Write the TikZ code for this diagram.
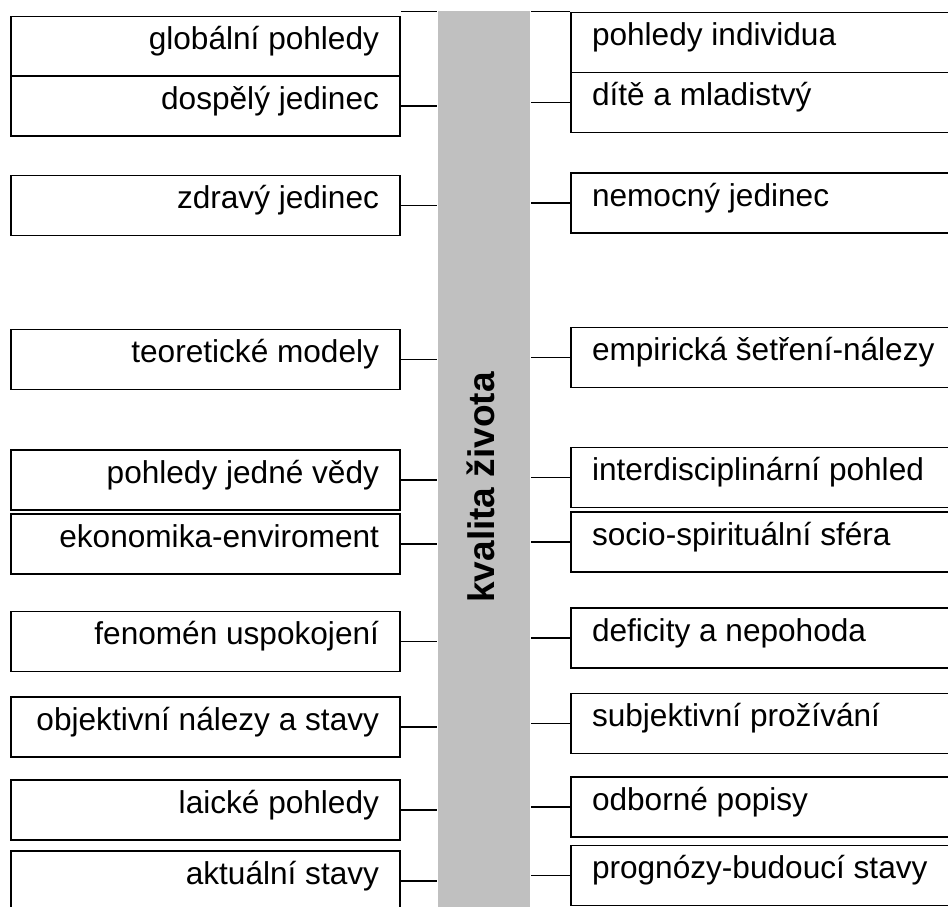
\documentclass[tikz,border=0pt]{standalone}
\usepackage{fontspec}
\setmainfont{Liberation Sans}
\usepackage{xcolor}
\usepackage{tikz}
\usetikzlibrary{positioning}
\definecolor{barfill}{HTML}{C0C0C0}

\begin{document}
\begin{tikzpicture}[x=1pt,y=-1pt,line width=1.5pt,
  box/.style={draw,line width=1.8pt,minimum height=60pt,inner xsep=21pt,inner ysep=0pt,
              text height=20pt,text depth=14pt,font=\fontsize{31.6}{36}\selectfont},
  lbox/.style={box,execute at begin node={\hbox to 347pt\bgroup\hss},execute at end node={\egroup}},
  rbox/.style={box,execute at begin node={\hbox to 358pt\bgroup},execute at end node={\hss\egroup}},
  bar/.style={fill=barfill,minimum width=92pt,minimum height=953pt,inner sep=0pt}]
\useasboundingbox (0,0) rectangle (948,906);
\clip (0,0) rectangle (948,906);
% middle bar
\node[bar] (kz) at (484,487.5) {};
\node[rotate=90,anchor=base,font=\bfseries\fontsize{37}{40}\selectfont] (kzt) at (494,487.5) {kvalita života};
% left side
\node[lbox] (l1)  at (205.5,46.5)  {globální pohledy};
\node[lbox] (l2)  at (205.5,106)   {dospělý jedinec};
\node[lbox] (l3)  at (205.5,205.5) {zdravý jedinec};
\node[lbox] (l4)  at (205.5,359.5) {teoretické modely};
\node[lbox] (l5)  at (205.5,480)   {pohledy jedné vědy};
\node[lbox] (l6)  at (205.5,544)   {ekonomika-enviroment};
\node[lbox] (l7)  at (205.5,641.5) {fenomén uspokojení};
\node[lbox] (l8)  at (205.5,727)   {objektivní nálezy a stavy};
\node[lbox] (l9)  at (205.5,810)   {laické pohledy};
\node[lbox] (l10) at (205.5,881)   {aktuální stavy};
% right side
\node[rbox] (r1)  at (771,42.5)  {pohledy individua};
\node[rbox] (r2)  at (771,102.5) {dítě a mladistvý};
\node[rbox] (r3)  at (771,203)   {nemocný jedinec};
\node[rbox] (r4)  at (771,357.5) {empirická šetření-nálezy};
\node[rbox] (r5)  at (771,477.5) {interdisciplinární pohled};
\node[rbox] (r6)  at (771,542)   {socio-spirituální sféra};
\node[rbox] (r7)  at (771,638)   {deficity a nepohoda};
\node[rbox] (r8)  at (771,723.5) {subjektivní prožívání};
\node[rbox] (r9)  at (771,807)   {odborné popisy};
\node[rbox] (r10) at (771,875.5) {prognózy-budoucí stavy};
% connectors
\coordinate (l1c) at ([yshift=4pt]l1.north east);
\path (l1c) edge (l1c -| kz.west);
\foreach \i in {2,...,10}
  \path (l\i.east) edge (l\i.east -| kz.west);
\path (r1.north west) edge (r1.north west -| kz.east);
\foreach \i in {2,...,10}
  \path (r\i.west) edge (r\i.west -| kz.east);
\end{tikzpicture}
\end{document}
